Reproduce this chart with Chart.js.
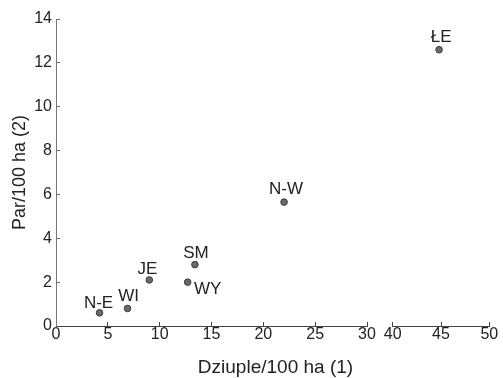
<!DOCTYPE html>
<html>
<head>
<meta charset="utf-8">
<script src="https://cdn.jsdelivr.net/npm/chart.js@4/dist/chart.umd.min.js"></script>
<style>
  html, body { margin: 0; padding: 0; background: #fff; }
  #wrap { position: relative; width: 503px; height: 378px; overflow: hidden; }
  canvas { position: absolute; top: 0; }
  #xTitle { position: absolute; left: 60px; width: 431px; top: 356px; text-align: center;
            font: 19px "Liberation Sans", Arial, sans-serif; color: #222; line-height: 22px; }
</style>
</head>
<body>
<div id="wrap">
  <canvas id="left" width="390" height="378" style="left:0"></canvas>
  <canvas id="right" width="131" height="378" style="left:372px"></canvas>
  <div id="xTitle">Dziuple/100 ha (1)</div>
</div>
<script>
/* Scatter: pairs per 100 ha vs cavities per 100 ha, x axis broken between 30 and 40. */

const siteNames = ["N-E", "WI", "JE", "WY", "SM", "N-W", "ŁE"];
const cavities  = [4.2, 6.9, 9.0, 12.7, 13.4, 22.0, 44.8];   // Dziuple/100 ha (1)
const pairs     = [0.6, 0.8, 2.1, 2.0, 2.8, 5.65, 12.6];     // Par/100 ha (2)
const xLeftRange  = [0, 30];
const xRightRange = [40, 50];
const yRange = [0, 14];

// where each name sits relative to its point (px)
const labelShift = { "N-E": [-1, -10], "WI": [1, -12], "JE": [-2, -11], "SM": [1, -11],
                     "WY": [20, 7], "N-W": [2, -13], "ŁE": [2, -12] };

const FONT = '"Liberation Sans", Arial, sans-serif';
const INK = "#222";

function pointsIn(range) {
  return cavities.map((x, i) => ({ x, y: pairs[i], name: siteNames[i] }))
    .filter(p => p.x >= range[0] && p.x <= range[1]);
}

const nameLabels = {
  id: "nameLabels",
  afterDatasetsDraw(chart) {
    const ctx = chart.ctx, xs = chart.scales.x, ys = chart.scales.y;
    ctx.save();
    ctx.font = "17px " + FONT;
    ctx.fillStyle = INK;
    ctx.textAlign = "center";
    ctx.textBaseline = "middle";
    chart.data.datasets[0].data.forEach(p => {
      const d = labelShift[p.name] || [0, -12];
      ctx.fillText(p.name, xs.getPixelForValue(p.x) + d[0], ys.getPixelForValue(p.y) + d[1]);
    });
    ctx.restore();
  },
};

function dataset(range) {
  return [{
    data: pointsIn(range),
    pointRadius: 3.3, pointHoverRadius: 3.3,
    backgroundColor: "#6a6a6a", borderColor: "#3c3c3c", borderWidth: 1,
  }];
}

function xScale(range) {
  return {
    type: "linear", min: range[0], max: range[1],
    ticks: { stepSize: 5, color: INK, font: { size: 16, family: FONT }, padding: 3, maxRotation: 0 },
    grid: { drawOnChartArea: false, tickLength: -4, color: "#444", tickColor: "#444" },
    border: { color: "#444", width: 1 },
    afterFit(s) { s.height = 52; },
  };
}

const common = {
  responsive: false, animation: false, devicePixelRatio: 1,
  plugins: { legend: { display: false }, tooltip: { enabled: false } },
};

new Chart(document.getElementById("left"), {
  type: "scatter",
  data: { datasets: dataset(xLeftRange) },
  plugins: [nameLabels],
  options: Object.assign({}, common, {
    layout: { padding: { top: 19, right: 23, bottom: 0, left: 0 } },
    scales: {
      x: xScale(xLeftRange),
      y: {
        min: yRange[0], max: yRange[1],
        ticks: { stepSize: 2, color: INK, font: { size: 16, family: FONT }, padding: 8 },
        grid: { drawOnChartArea: false, tickLength: -4, color: "#666", tickColor: "#666" },
        border: { color: "#777", width: 1 },
        title: { display: true, text: "Par/100 ha (2)", color: INK,
                 font: { size: 18, family: FONT }, padding: { top: 9, bottom: 0 } },
        afterFit(s) { s.width = 56; },
      },
    },
  }),
});

new Chart(document.getElementById("right"), {
  type: "scatter",
  data: { datasets: dataset(xRightRange) },
  plugins: [nameLabels],
  options: Object.assign({}, common, {
    layout: { padding: { top: 19, right: 13.7, bottom: 0, left: 20.7 } },
    scales: {
      x: xScale(xRightRange),
      y: { display: false, min: yRange[0], max: yRange[1] },
    },
  }),
});
</script>
</body>
</html>
